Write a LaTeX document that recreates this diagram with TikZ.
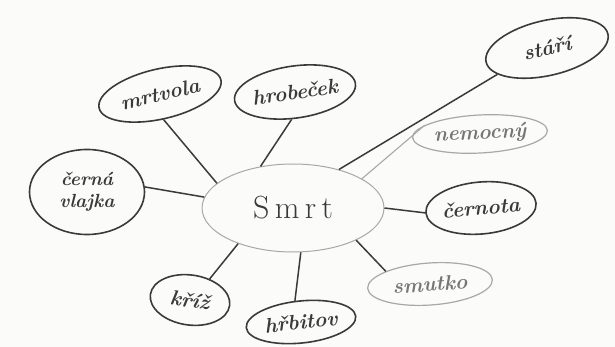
\documentclass[tikz,border=0pt]{standalone}
\usetikzlibrary{shapes.geometric}
\definecolor{ink}{HTML}{3A3A3A}
\definecolor{pale}{HTML}{A8A8A8}
\definecolor{paper}{HTML}{FBFBFA}
\tikzset{
  hand/.style={font=\bfseries\itshape\fontsize{21}{24}\selectfont},
  bubble/.style={ellipse, draw=ink, line width=1.6pt, inner sep=0pt, hand, text=ink},
  palebubble/.style={ellipse, draw=pale, line width=1.2pt, inner sep=0pt, hand, text=pale!70!black},
  link/.style={draw=ink, line width=1.5pt},
  palelink/.style={draw=pale, line width=1.1pt}
}
\begin{document}
\begin{tikzpicture}[x=1pt,y=-1pt]
\fill[paper] (0,0) rectangle (615,347);
\useasboundingbox (0,0) rectangle (615,347);

\node[ellipse, draw=pale, line width=1pt, minimum width=182pt, minimum height=88pt, inner sep=0pt,
      font=\fontsize{32}{36}\selectfont, text=ink] (smrt) at (293,208) {S\,m\,r\,t};

\node[bubble, minimum width=125pt, minimum height=50pt, rotate=13] (mrtvola) at (160,94) {mrtvola};
\node[bubble, minimum width=120pt, minimum height=52pt, rotate=8] (hrob) at (295,92) {hrobeček};
\node[bubble, minimum width=125pt, minimum height=55pt, rotate=13] (stari) at (547,48) {stáří};
\node[palebubble, minimum width=135pt, minimum height=38pt, rotate=3] (nemoc) at (480,134) {nemocný};
\node[bubble, minimum width=115pt, minimum height=85pt, align=center, font=\bfseries\itshape\fontsize{19}{22}\selectfont] (vlajka) at (87,192) {černá\\vlajka};
\node[bubble, minimum width=95pt, minimum height=52pt, rotate=5] (cernota) at (481,208) {černota};
\node[palebubble, minimum width=125pt, minimum height=42pt, rotate=4] (smutko) at (430,284) {smutko};
\node[bubble, minimum width=80pt, minimum height=50pt, rotate=-8] (kriz) at (190,300) {kříž};
\node[bubble, minimum width=110pt, minimum height=42pt, rotate=6] (hrbitov) at (301,322) {hřbitov};

\draw[link] (mrtvola.-95) -- (smrt.162);
\draw[link] (hrob.-105) -- (smrt.128);
\draw[link] (stari.195) -- (smrt.40);
\draw[palelink] (nemoc.168) -- (smrt.23);
\draw[link] (vlajka.5) -- (smrt.173);
\draw[link] (smrt.0) -- (cernota.180);
\draw[link] (smrt.-27) -- (smutko.160);
\draw[link] (smrt.213) -- (kriz.55);
\draw[link] (smrt.-80) -- (hrbitov.100);
\end{tikzpicture}
\end{document}
